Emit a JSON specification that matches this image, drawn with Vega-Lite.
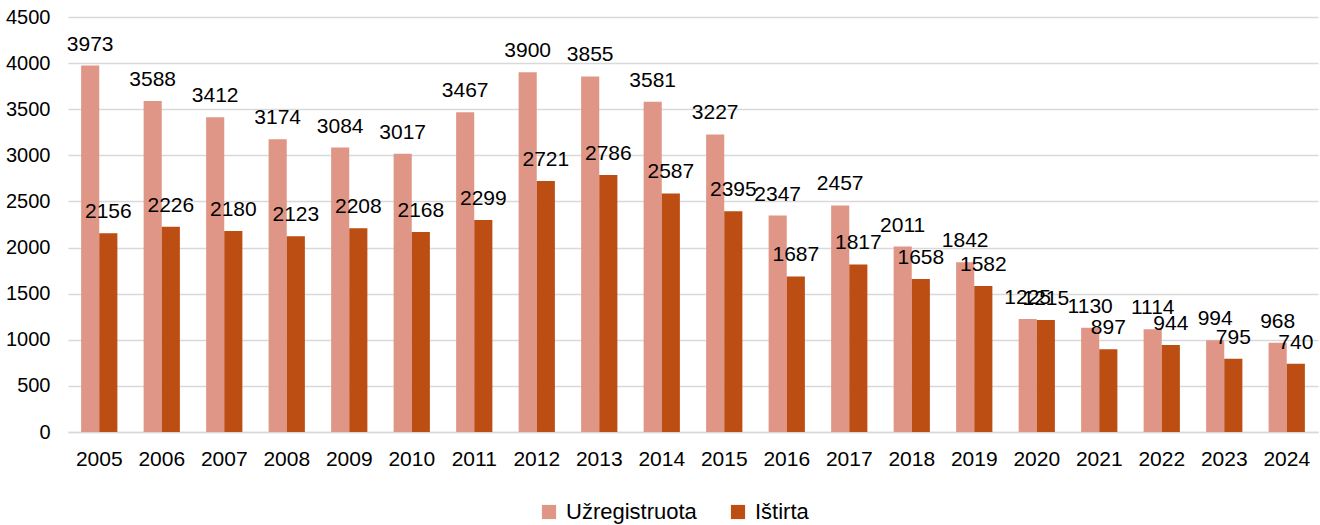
{
  "$schema": "https://vega.github.io/schema/vega-lite/v6.json",
  "width": 1250,
  "height": 415,
  "autosize": {"type": "none"},
  "padding": {"left": 68, "top": 17, "right": 2, "bottom": 93},
  "background": "white",
  "config": {
    "font": "Liberation Sans",
    "view": {"stroke": null}
  },
  "data": {
    "values": [
      {"year": "2005", "series": "Užregistruota", "value": 3973},
      {"year": "2006", "series": "Užregistruota", "value": 3588},
      {"year": "2007", "series": "Užregistruota", "value": 3412},
      {"year": "2008", "series": "Užregistruota", "value": 3174},
      {"year": "2009", "series": "Užregistruota", "value": 3084},
      {"year": "2010", "series": "Užregistruota", "value": 3017},
      {"year": "2011", "series": "Užregistruota", "value": 3467},
      {"year": "2012", "series": "Užregistruota", "value": 3900},
      {"year": "2013", "series": "Užregistruota", "value": 3855},
      {"year": "2014", "series": "Užregistruota", "value": 3581},
      {"year": "2015", "series": "Užregistruota", "value": 3227},
      {"year": "2016", "series": "Užregistruota", "value": 2347},
      {"year": "2017", "series": "Užregistruota", "value": 2457},
      {"year": "2018", "series": "Užregistruota", "value": 2011},
      {"year": "2019", "series": "Užregistruota", "value": 1842},
      {"year": "2020", "series": "Užregistruota", "value": 1225},
      {"year": "2021", "series": "Užregistruota", "value": 1130},
      {"year": "2022", "series": "Užregistruota", "value": 1114},
      {"year": "2023", "series": "Užregistruota", "value": 994},
      {"year": "2024", "series": "Užregistruota", "value": 968},
      {"year": "2005", "series": "Ištirta", "value": 2156},
      {"year": "2006", "series": "Ištirta", "value": 2226},
      {"year": "2007", "series": "Ištirta", "value": 2180},
      {"year": "2008", "series": "Ištirta", "value": 2123},
      {"year": "2009", "series": "Ištirta", "value": 2208},
      {"year": "2010", "series": "Ištirta", "value": 2168},
      {"year": "2011", "series": "Ištirta", "value": 2299},
      {"year": "2012", "series": "Ištirta", "value": 2721},
      {"year": "2013", "series": "Ištirta", "value": 2786},
      {"year": "2014", "series": "Ištirta", "value": 2587},
      {"year": "2015", "series": "Ištirta", "value": 2395},
      {"year": "2016", "series": "Ištirta", "value": 1687},
      {"year": "2017", "series": "Ištirta", "value": 1817},
      {"year": "2018", "series": "Ištirta", "value": 1658},
      {"year": "2019", "series": "Ištirta", "value": 1582},
      {"year": "2020", "series": "Ištirta", "value": 1215},
      {"year": "2021", "series": "Ištirta", "value": 897},
      {"year": "2022", "series": "Ištirta", "value": 944},
      {"year": "2023", "series": "Ištirta", "value": 795},
      {"year": "2024", "series": "Ištirta", "value": 740}
    ]
  },
  "encoding": {
    "x": {
      "field": "year",
      "type": "nominal",
      "title": null,
      "scale": {"paddingInner": 0.42, "paddingOuter": 0.21},
      "axis": {
        "labelAngle": 0,
        "labelFontSize": 21,
        "labelColor": "#000000",
        "labelPadding": 16,
        "ticks": false,
        "domainColor": "#d9d9d9",
        "domainWidth": 1.5
      }
    },
    "xOffset": {"field": "series", "type": "nominal", "sort": ["Užregistruota", "Ištirta"]},
    "y": {
      "field": "value",
      "type": "quantitative",
      "title": null,
      "scale": {"domain": [0, 4500], "nice": false},
      "axis": {
        "values": [0, 500, 1000, 1500, 2000, 2500, 3000, 3500, 4000, 4500],
        "format": "d",
        "labelFontSize": 20,
        "labelColor": "#000000",
        "labelPadding": 18,
        "ticks": false,
        "domain": false,
        "gridColor": "#d9d9d9",
        "gridWidth": 1.5
      }
    }
  },
  "layer": [
    {
      "mark": {"type": "bar"},
      "encoding": {
        "color": {
          "field": "series",
          "type": "nominal",
          "sort": ["Užregistruota", "Ištirta"],
          "scale": {"domain": ["Užregistruota", "Ištirta"], "range": ["#E09686", "#BC4D13"]},
          "legend": {
            "title": null,
            "orient": "none",
            "direction": "horizontal",
            "legendX": 470,
            "legendY": 484,
            "symbolType": "square",
            "symbolSize": 200,
            "symbolStrokeWidth": 0,
            "labelFontSize": 22,
            "labelColor": "#000000",
            "columnPadding": 30,
            "labelOffset": 6
          }
        }
      }
    },
    {
      "mark": {"type": "text", "fontSize": 21, "color": "#000000", "baseline": "alphabetic", "dy": -15},
      "encoding": {
        "text": {"field": "value", "type": "quantitative", "format": "d"}
      }
    }
  ]
}
